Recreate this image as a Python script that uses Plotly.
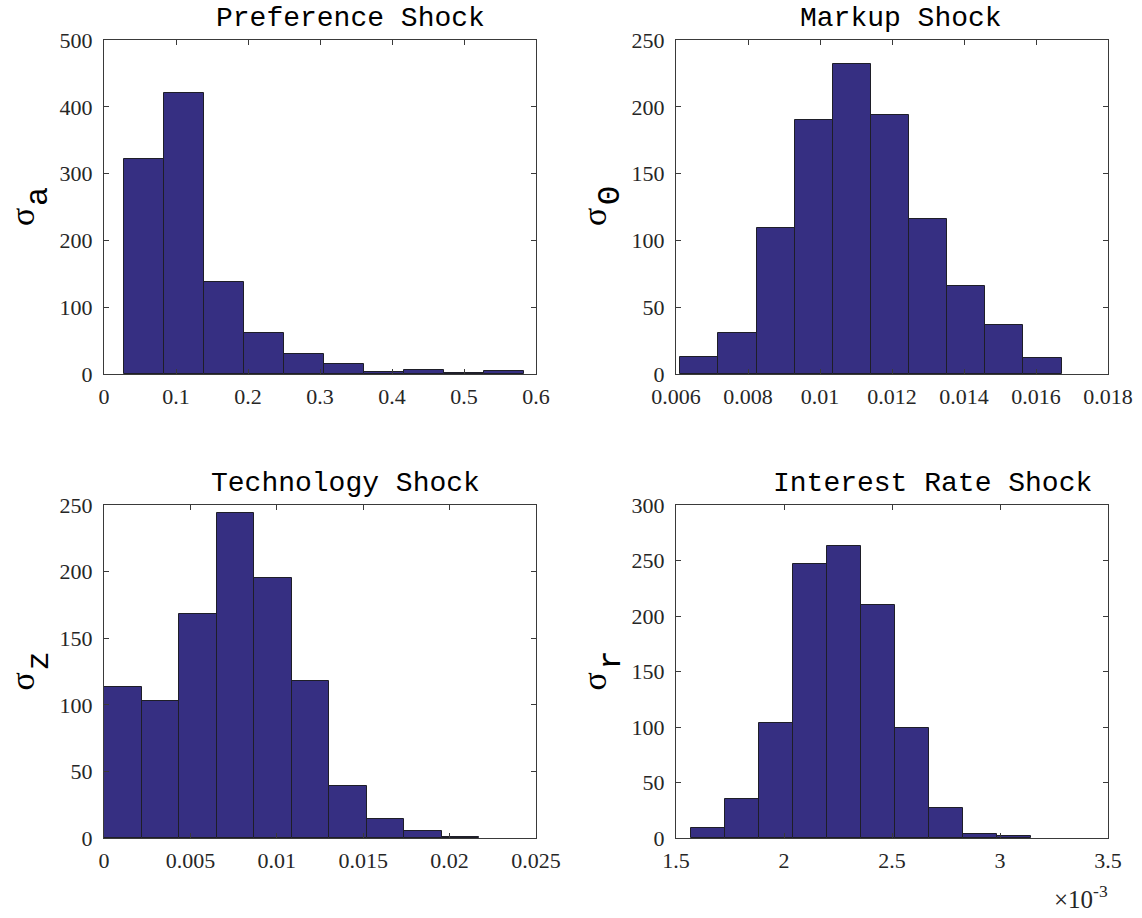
import numpy as np
import plotly.graph_objects as go

# ---------------- data ----------------
pref_edges = [0.0278, 0.0833, 0.1389, 0.1944, 0.2500, 0.3055, 0.3611, 0.4166, 0.4722, 0.5277, 0.5833]
pref_counts = [322, 421, 138, 62, 30, 15, 3, 6, 2, 4]

markup_edges = [0.00612, 0.00718, 0.00824, 0.00930, 0.01036, 0.01142, 0.01248, 0.01353, 0.01459, 0.01565, 0.01671]
markup_counts = [13, 31, 109, 190, 232, 194, 116, 66, 37, 12]

tech_edges = [0.00002, 0.00219, 0.00436, 0.00653, 0.00870, 0.01087, 0.01304, 0.01521, 0.01738, 0.01955, 0.02172]
tech_counts = [113, 103, 168, 244, 195, 118, 39, 14, 5, 1]

rate_edges = [0.0015675, 0.0017253, 0.0018831, 0.0020409, 0.0021987, 0.0023566,
              0.0025144, 0.0026722, 0.0028300, 0.0029878, 0.0031456]
rate_counts = [9, 35, 104, 247, 263, 210, 99, 27, 4, 2]

titles = ["Preference Shock", "Markup Shock", "Technology Shock", "Interest Rate Shock"]
sub_labels = ["a", "Θ", "z", "r"]

x_ticks = [
    [0, 0.1, 0.2, 0.3, 0.4, 0.5, 0.6],
    [0.006, 0.008, 0.010, 0.012, 0.014, 0.016, 0.018],
    [0, 0.005, 0.010, 0.015, 0.020, 0.025],
    [0.0015, 0.0020, 0.0025, 0.0030, 0.0035],
]
x_ticktext = [
    ["0", "0.1", "0.2", "0.3", "0.4", "0.5", "0.6"],
    ["0.006", "0.008", "0.01", "0.012", "0.014", "0.016", "0.018"],
    ["0", "0.005", "0.01", "0.015", "0.02", "0.025"],
    ["1.5", "2", "2.5", "3", "3.5"],
]
y_ticks = [
    [0, 100, 200, 300, 400, 500],
    [0, 50, 100, 150, 200, 250],
    [0, 50, 100, 150, 200, 250],
    [0, 50, 100, 150, 200, 250, 300],
]

# ---------------- layout geometry ----------------
W, H = 1142, 918
BAR_COLOR = "#362f82"
EDGE_COLOR = "#1e1e28"
AX_COLOR = "#3a3a3a"
TXT_COLOR = "#262626"
SERIF = "Liberation Serif"
MONO = "Liberation Mono"

# pixel boxes of the four axes: (left, right, top, bottom)
boxes = [
    (104, 536, 40, 374),
    (676, 1108, 40, 374),
    (104, 536, 505, 838),
    (676, 1108, 505, 838),
]
title_cx = [350, 901, 345, 932]

fig = go.Figure()
series = [(pref_edges, pref_counts), (markup_edges, markup_counts),
          (tech_edges, tech_counts), (rate_edges, rate_counts)]

for i, (edges, counts) in enumerate(series):
    e = np.array(edges)
    centers = (e[:-1] + e[1:]) / 2
    widths = np.diff(e)
    ax = "" if i == 0 else str(i + 1)
    fig.add_trace(go.Bar(
        x=centers, y=counts, width=widths,
        marker=dict(color=BAR_COLOR, line=dict(color=EDGE_COLOR, width=1)),
        xaxis="x" + ax, yaxis="y" + ax, showlegend=False, hoverinfo="skip",
    ))

layout = dict(
    template="none",
    width=W, height=H,
    margin=dict(l=0, r=0, t=0, b=0, pad=0, autoexpand=False),
    paper_bgcolor="white", plot_bgcolor="white",
    bargap=0, showlegend=False,
)

annotations = []
for i in range(4):
    l, r, t, b = boxes[i]
    ax = "" if i == 0 else str(i + 1)
    xr = [x_ticks[i][0], x_ticks[i][-1]]
    yr = [y_ticks[i][0], y_ticks[i][-1]]
    common = dict(
        showline=True, linecolor=AX_COLOR, linewidth=1, mirror="ticks",
        ticks="inside", ticklen=5, tickcolor=AX_COLOR, tickwidth=1,
        showgrid=False, zeroline=False, automargin=False,
        tickfont=dict(family=SERIF, size=22, color=TXT_COLOR),
    )
    layout["xaxis" + ax] = dict(
        common, domain=[l / W, r / W], range=xr, anchor="y" + ax,
        tickmode="array", tickvals=x_ticks[i], ticktext=x_ticktext[i],
        ticklabelstandoff=3,
    )
    layout["yaxis" + ax] = dict(
        common, domain=[1 - b / H, 1 - t / H], range=yr, anchor="x" + ax,
        tickmode="array", tickvals=y_ticks[i],
        ticklabelstandoff=6,
    )
    # title
    annotations.append(dict(
        text=titles[i], xref="paper", yref="paper",
        x=title_cx[i] / W, y=1 - (t - 22) / H, xanchor="center", yanchor="middle",
        showarrow=False, font=dict(family=MONO, size=28, color="black"),
    ))
    cy = (t + b) / 2
    # y label: sigma + subscript
    annotations.append(dict(
        text="σ", xref="paper", yref="paper",
        x=(l - 82) / W, y=1 - (cy + 10) / H, xanchor="center", yanchor="middle",
        textangle=-90, showarrow=False, borderpad=0,
        font=dict(family=SERIF, size=34, color="black"),
    ))
    annotations.append(dict(
        text=sub_labels[i], xref="paper", yref="paper",
        x=(l - 65) / W, y=1 - (cy - 11) / H, xanchor="center", yanchor="middle",
        textangle=-90, showarrow=False, borderpad=0,
        font=dict(family=MONO, size=32, color="black"),
    ))

# exponent label for the interest-rate axis
annotations.append(dict(
    text="×10<sup>-3</sup>", xref="paper", yref="paper",
    x=1110 / W, y=1 - 897 / H, xanchor="right", yanchor="middle",
    showarrow=False, font=dict(family=SERIF, size=25, color=TXT_COLOR),
))

layout["annotations"] = annotations
fig.update_layout(**layout)
fig.write_html("out.html")
